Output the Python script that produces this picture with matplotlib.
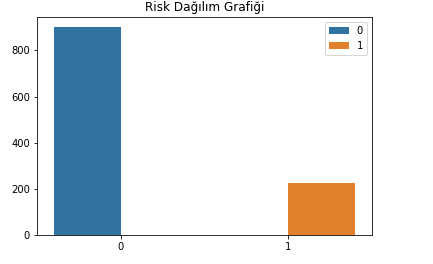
import matplotlib.pyplot as plt
import numpy as np

categories = ["0", "1"]
counts = [900, 226]
colors = ["#3274a1", "#e1812c"]

fig = plt.figure(figsize=(433 / 72, 264 / 72), dpi=72)
ax = fig.add_axes([0.0855, 0.11, 0.774, 0.826])

x = np.arange(len(categories))
offsets = [-0.2, 0.2]
for i, (c, col) in enumerate(zip(categories, colors)):
    ax.bar(x[i] + offsets[i], counts[i], width=0.4, color=col, label=c)

ax.set_xticks(x)
ax.set_xticklabels(categories)
ax.set_xlim(-0.5, 1.5)
ax.set_ylim(0, 945)
ax.set_yticks([0, 200, 400, 600, 800])
ax.set_title("Risk Dağılım Grafiği", fontsize=12)
ax.legend(loc="upper right")

fig.savefig("out.png", dpi=72)
